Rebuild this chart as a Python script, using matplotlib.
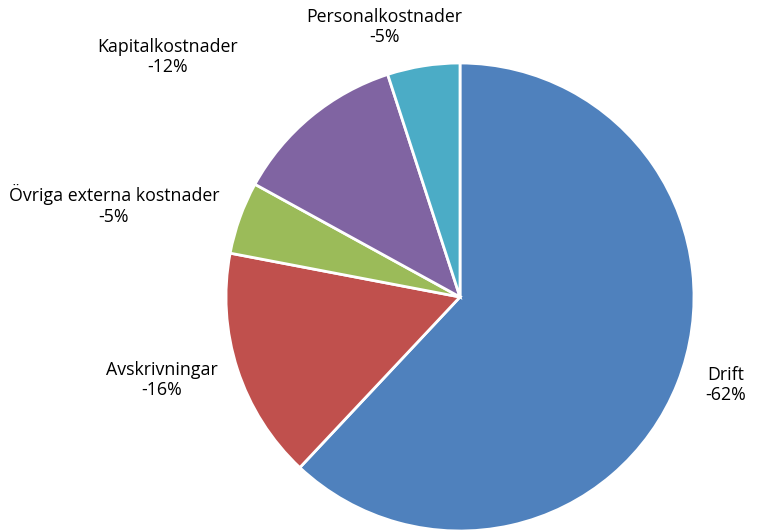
import matplotlib.pyplot as plt

# data
labels = ['Drift', 'Avskrivningar', 'Övriga externa kostnader', 'Kapitalkostnader', 'Personalkostnader']
values = [62, 16, 5, 12, 5]
colors = ['#4F81BD', '#C0504D', '#9BBB59', '#8064A2', '#4BACC6']

# label positions in pixels of the reference picture
label_px = [(726, 385), (162, 380), (114, 205), (168, 57), (384, 27)]

W, H = 766, 531
cx, cy, r = 460, 297, 234

fig = plt.figure(figsize=(W / 100, H / 100), dpi=100)
ax = fig.add_axes([0, 0, 1, 1])

ax.pie(values, colors=colors, startangle=90, counterclock=False,
       radius=1, center=(0, 0),
       wedgeprops=dict(edgecolor='white', linewidth=2))

ax.set_xlim(-cx / r, (W - cx) / r)
ax.set_ylim(-(H - cy) / r, cy / r)
ax.set_aspect('auto')
ax.axis('off')

for name, v, (px, py) in zip(labels, values, label_px):
    ax.text((px - cx) / r, (cy - py) / r, '%s\n-%d%%' % (name, v),
            ha='center', va='center', fontsize=12.8, family='Open Sans',
            linespacing=1.2, color='#000000')

fig.savefig('out.png', dpi=100)
